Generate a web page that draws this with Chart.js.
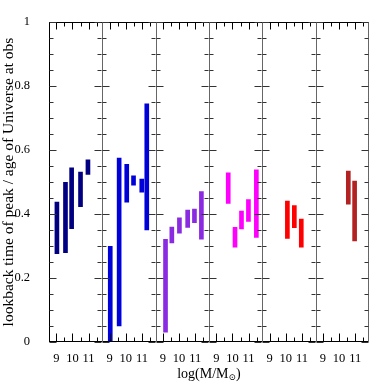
<!DOCTYPE html>
<html>
<head>
<meta charset="utf-8">
<script src="https://cdn.jsdelivr.net/npm/chart.js@4"></script>
<style>
    html, body { margin: 0; padding: 0; background: #fff; }
    #wrap { position: relative; width: 390px; height: 390px; }
    #wrap canvas { position: absolute; left: 0; top: 0; }
</style>
</head>
<body>
<div id="wrap"></div>
<script>
// tick values
const massTicks = [9, 10, 11];
const massMinorTicks = [9.5, 10.5, 11.5];
const fracTicks = [0, 0.2, 0.4, 0.6, 0.8, 1];
const fracMinorTicks = [0.05, 0.1, 0.15, 0.25, 0.3, 0.35, 0.45, 0.5, 0.55, 0.65, 0.7, 0.75, 0.85, 0.9, 0.95];

// one panel per colour: log mass, low and high end of each bar
const navyMass = [9.04, 9.57, 9.95, 10.5, 10.96];
const navyLow = [0.276, 0.279, 0.354, 0.423, 0.524];
const navyHigh = [0.437, 0.499, 0.544, 0.531, 0.569];

const blueMass = [9.04, 9.59, 10.06, 10.48, 10.99, 11.3];
const blueLow = [0, 0.05, 0.437, 0.49, 0.468, 0.35];
const blueHigh = [0.299, 0.575, 0.555, 0.519, 0.509, 0.744];

const violetMass = [9.16, 9.55, 10.02, 10.53, 10.95, 11.38];
const violetLow = [0.031, 0.31, 0.34, 0.358, 0.373, 0.321];
const violetHigh = [0.321, 0.359, 0.388, 0.412, 0.415, 0.47];

const magentaMass = [9.74, 10.16, 10.56, 10.99, 11.48];
const magentaLow = [0.433, 0.296, 0.353, 0.377, 0.327];
const magentaHigh = [0.529, 0.358, 0.409, 0.445, 0.538];

const redMass = [10.1, 10.53, 10.96];
const redLow = [0.324, 0.357, 0.296];
const redHigh = [0.44, 0.426, 0.384];

const brickMass = [10.57, 10.96];
const brickLow = [0.431, 0.316];
const brickHigh = [0.534, 0.503];

const panels = [
    { color: '#000080', mass: navyMass, low: navyLow, high: navyHigh },
    { color: '#0000d8', mass: blueMass, low: blueLow, high: blueHigh },
    { color: '#8a2be2', mass: violetMass, low: violetLow, high: violetHigh },
    { color: '#ff00ff', mass: magentaMass, low: magentaLow, high: magentaHigh },
    { color: '#ff0000', mass: redMass, low: redLow, high: redHigh },
    { color: '#b22222', mass: brickMass, low: brickLow, high: brickHigh }
];

const SIZE = 390;
const PLOT_LEFT = 49;
const PLOT_RIGHT = 369;
const PLOT_TOP = 22;
const PLOT_BOTTOM = 342;
const PANEL_W = (PLOT_RIGHT - PLOT_LEFT) / panels.length;
const FONT = '"Liberation Serif", "DejaVu Serif", serif';

function strokeLine(ctx, x1, y1, x2, y2) {
    ctx.beginPath();
    ctx.moveTo(x1, y1);
    ctx.lineTo(x2, y2);
    ctx.stroke();
}

// frame with inward ticks on all four sides
const frameTicks = {
    id: 'frameTicks',
    afterDatasetsDraw(chart, args, opts) {
        const ctx = chart.ctx;
        const a = chart.chartArea;
        const x = chart.scales.x;
        const y = chart.scales.y;
        const top = Math.round(a.top) + 0.5;
        const bottom = Math.round(a.bottom) - 0.5;
        const lx = Math.round(a.left) + 0.5;
        const rx = Math.round(a.right) - 0.5;
        ctx.save();
        ctx.lineWidth = 1;

        ctx.strokeStyle = '#000';
        strokeLine(ctx, a.left, top, a.right, top);
        strokeLine(ctx, a.left, bottom, a.right, bottom);
        massTicks.forEach(function (v) {
            const px = Math.round(x.getPixelForValue(v)) + 0.5;
            strokeLine(ctx, px, bottom, px, bottom - 8);
            strokeLine(ctx, px, top, px, top + 7);
        });
        massMinorTicks.forEach(function (v) {
            const px = Math.round(x.getPixelForValue(v)) + 0.5;
            strokeLine(ctx, px, bottom, px, bottom - 4);
            strokeLine(ctx, px, top, px, top + 4);
        });

        ctx.strokeStyle = opts.first ? '#000' : '#666';
        strokeLine(ctx, lx, a.top, lx, a.bottom);
        if (opts.last) {
            ctx.strokeStyle = '#666';
            strokeLine(ctx, rx, a.top, rx, a.bottom);
        }
        ctx.strokeStyle = '#333';
        fracTicks.forEach(function (v) {
            const py = Math.round(y.getPixelForValue(v)) + 0.5;
            strokeLine(ctx, lx, py, lx + 7, py);
            strokeLine(ctx, rx, py, rx - 7, py);
        });
        fracMinorTicks.forEach(function (v) {
            const py = Math.round(y.getPixelForValue(v)) + 0.5;
            strokeLine(ctx, lx, py, lx + 4, py);
            strokeLine(ctx, rx, py, rx - 4, py);
        });
        ctx.restore();
    }
};

// shared x title under all panels, with a subscript sun symbol
const massTitle = {
    id: 'massTitle',
    afterDraw(chart, args, opts) {
        if (!opts.show) return;
        const ctx = chart.ctx;
        const a = chart.chartArea;
        const mid = a.left + (a.right - a.left) * panels.length / 2;
        const base = 378;
        const mainFont = '14px ' + FONT;
        const subFont = '9px "DejaVu Serif", serif';
        ctx.save();
        ctx.fillStyle = '#000';
        ctx.textBaseline = 'alphabetic';
        ctx.textAlign = 'left';
        ctx.font = mainFont;
        const w1 = ctx.measureText('log(M/M').width;
        const w3 = ctx.measureText(')').width;
        ctx.font = subFont;
        const w2 = ctx.measureText('\u2299').width;
        let cx = mid - (w1 + w2 + w3) / 2;
        ctx.font = mainFont;
        ctx.fillText('log(M/M', cx, base);
        cx += w1;
        ctx.font = subFont;
        ctx.fillText('\u2299', cx, base + 2);
        cx += w2;
        ctx.font = mainFont;
        ctx.fillText(')', cx, base);
        ctx.restore();
    }
};

const wrap = document.getElementById('wrap');

panels.forEach(function (p, i) {
    const canvas = document.createElement('canvas');
    canvas.width = SIZE;
    canvas.height = SIZE;
    wrap.appendChild(canvas);

    const left = PLOT_LEFT + i * PANEL_W;
    const right = left + PANEL_W;

    new Chart(canvas, {
        type: 'bar',
        data: {
            datasets: [{
                data: p.mass.map(function (m, k) { return { x: m, y: [p.low[k], p.high[k]] }; }),
                backgroundColor: p.color,
                barThickness: 4
            }]
        },
        options: {
            responsive: false,
            animation: false,
            devicePixelRatio: 1,
            layout: {
                padding: { left: i === 0 ? 0 : left, right: SIZE - right, top: PLOT_TOP, bottom: 0 }
            },
            plugins: {
                legend: { display: false },
                tooltip: { enabled: false },
                frameTicks: { first: i === 0, last: i === panels.length - 1 },
                massTitle: { show: i === 0 }
            },
            scales: {
                x: {
                    type: 'linear',
                    min: 8.55,
                    max: 11.85,
                    offset: false,
                    afterBuildTicks: function (s) { s.ticks = massTicks.map(function (v) { return { value: v }; }); },
                    afterFit: function (s) { s.height = SIZE - PLOT_BOTTOM; },
                    grid: { display: false },
                    border: { display: false },
                    ticks: {
                        autoSkip: false,
                        maxRotation: 0,
                        padding: 1,
                        color: '#000',
                        font: { family: FONT, size: 12.5 },
                        callback: function (v) { return String(v); }
                    }
                },
                y: {
                    min: 0,
                    max: 1,
                    display: i === 0,
                    afterBuildTicks: function (s) { s.ticks = fracTicks.map(function (v) { return { value: v }; }); },
                    afterFit: function (s) { if (i === 0) s.width = PLOT_LEFT; },
                    grid: { display: false },
                    border: { display: false },
                    ticks: {
                        padding: 11,
                        color: '#000',
                        font: { family: FONT, size: 12.5 },
                        callback: function (v) { return String(v); }
                    },
                    title: {
                        display: true,
                        text: 'lookback time of peak / age of Universe at obs',
                        color: '#000',
                        padding: { top: 0, bottom: 0 },
                        font: { family: FONT, size: 15.5 }
                    }
                }
            }
        },
        plugins: [frameTicks, massTitle]
    });
});
</script>
</body>
</html>
